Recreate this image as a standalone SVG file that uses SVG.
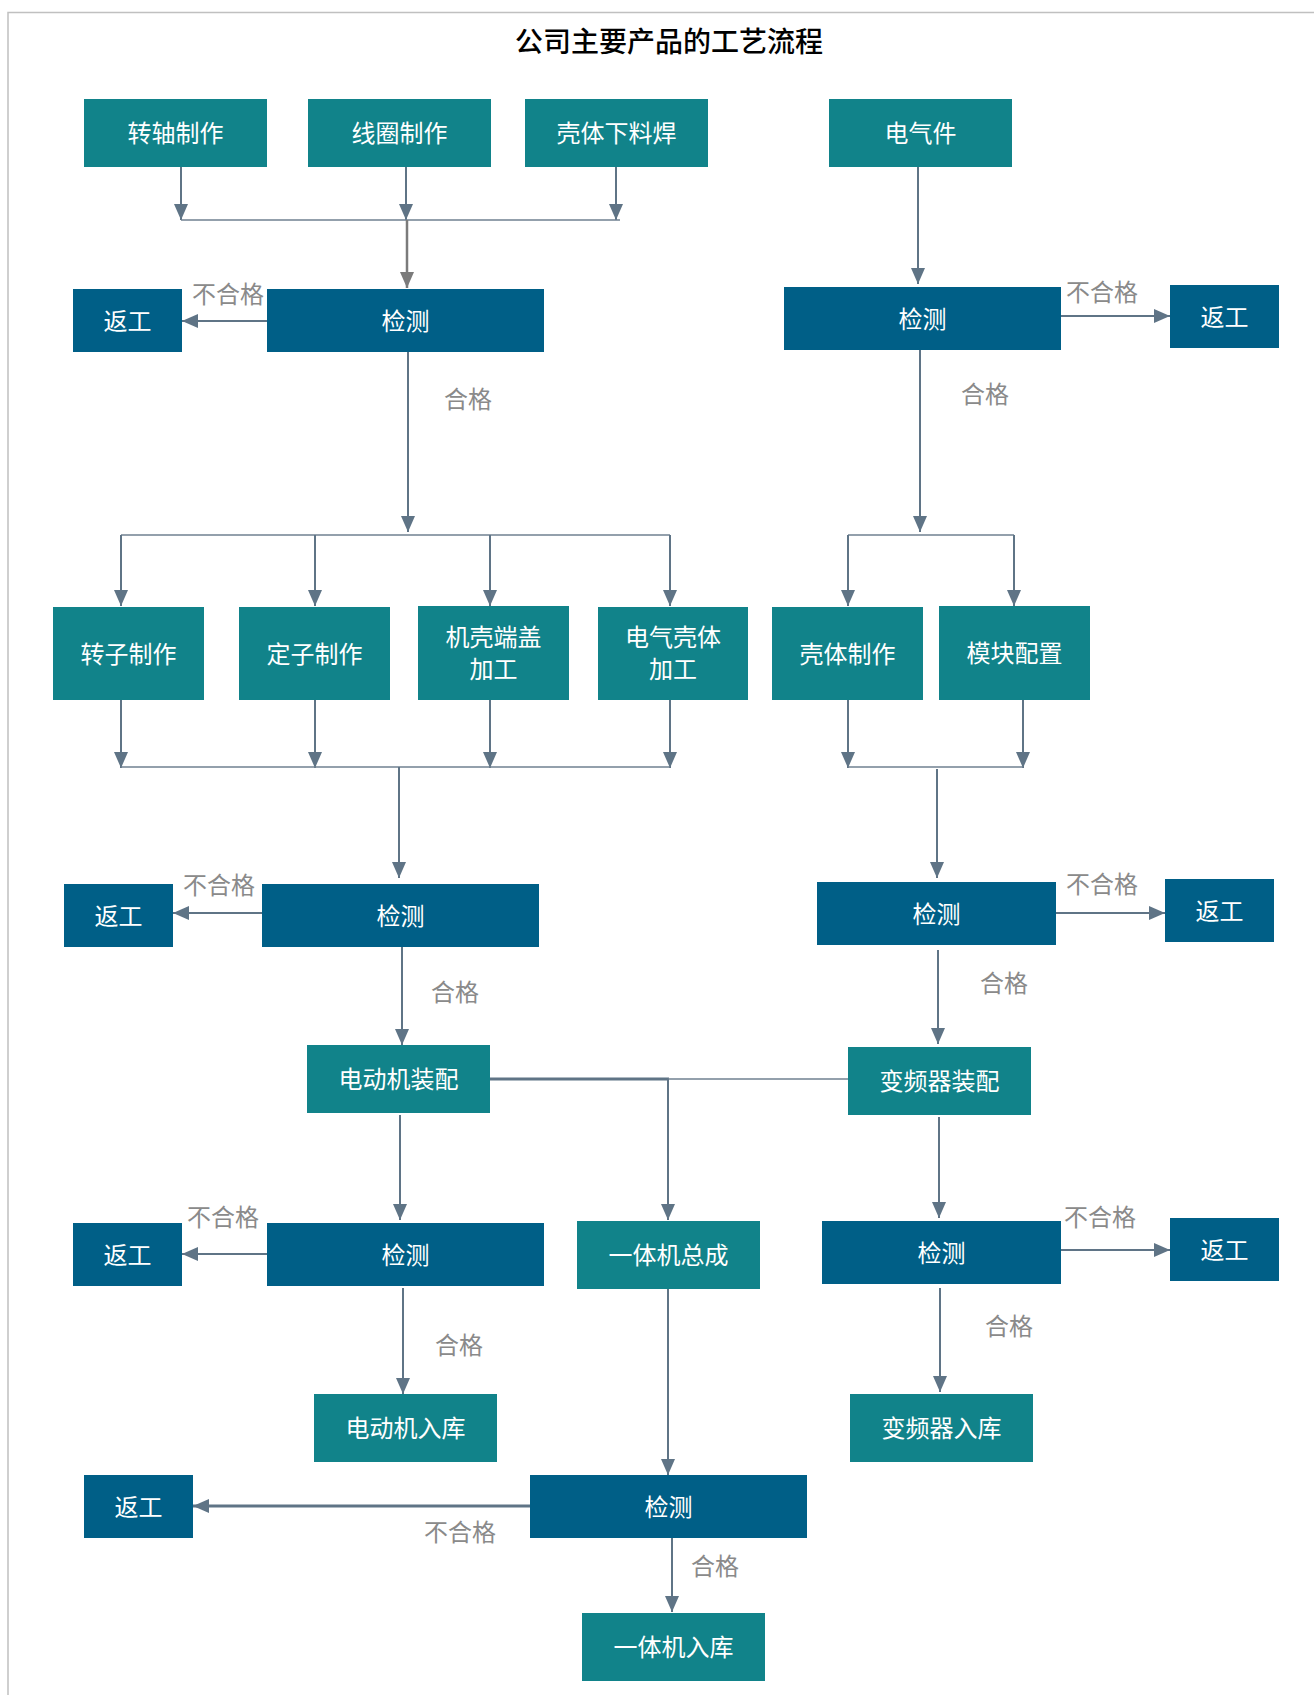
<svg xmlns="http://www.w3.org/2000/svg" width="1314" height="1695" viewBox="0 0 1314 1695">
  <defs>
    <style>
      .teal { fill: #11838a; }
      .blue { fill: #005f87; }
      .nt { font-family: "Noto Sans CJK SC", "Noto Sans", sans-serif; font-size: 24px; fill: #ffffff; text-anchor: middle; dominant-baseline: central; transform: translateY(-1.5px); }
      .lbl { font-family: "Noto Sans CJK SC", "Noto Sans", sans-serif; font-size: 24px; fill: #8a8a8a; text-anchor: middle; dominant-baseline: central; transform: translateY(-1.5px); }
      .title { font-family: "Noto Sans CJK SC", sans-serif; font-size: 28px; font-weight: 500; fill: #000000; text-anchor: middle; dominant-baseline: central; }
      .ln { stroke: #5f7486; stroke-width: 2; fill: none; }
      .thin { stroke: #6f8191; stroke-width: 1.5; fill: none; }
      .thick { stroke: #5f7486; stroke-width: 3; fill: none; }
      .gray { stroke: #7b7b7b; stroke-width: 2.5; fill: none; }
      .frame { stroke: #c0c0c0; stroke-width: 1.5; fill: none; }
    </style>
    <marker id="arr" markerUnits="userSpaceOnUse" markerWidth="16" markerHeight="14" refX="16" refY="7" orient="auto">
      <path d="M0,0 L16,7 L0,14 z" fill="#5f7486"/>
    </marker>
    <marker id="arrGray" markerUnits="userSpaceOnUse" markerWidth="16" markerHeight="14" refX="16" refY="7" orient="auto">
      <path d="M0,0 L16,7 L0,14 z" fill="#7b7b7b"/>
    </marker>
  </defs>

  <rect width="1314" height="1695" fill="#ffffff"/>
  <path class="frame" d="M8,1695 V12.5 H1314"/>
  <text class="title" x="669" y="40">公司主要产品的工艺流程</text>

  <!-- connectors -->
  <g id="connectors">
    <!-- first stage merge -->
    <line class="ln" x1="181" y1="167" x2="181" y2="220" marker-end="url(#arr)"/>
    <line class="ln" x1="406" y1="167" x2="406" y2="220" marker-end="url(#arr)"/>
    <line class="ln" x1="616" y1="167" x2="616" y2="220" marker-end="url(#arr)"/>
    <line class="thin" x1="181" y1="220" x2="620" y2="220"/>
    <line class="gray" x1="407" y1="220" x2="407" y2="288" marker-end="url(#arrGray)"/>
    <line class="ln" x1="267" y1="321" x2="182" y2="321" marker-end="url(#arr)"/>
    <line class="ln" x1="408" y1="352" x2="408" y2="532" marker-end="url(#arr)"/>

    <!-- motor component split -->
    <line class="thin" x1="121" y1="535" x2="670" y2="535"/>
    <line class="ln" x1="121" y1="535" x2="121" y2="606" marker-end="url(#arr)"/>
    <line class="ln" x1="315" y1="535" x2="315" y2="606" marker-end="url(#arr)"/>
    <line class="ln" x1="490" y1="535" x2="490" y2="606" marker-end="url(#arr)"/>
    <line class="ln" x1="670" y1="535" x2="670" y2="606" marker-end="url(#arr)"/>
    <line class="ln" x1="121" y1="700" x2="121" y2="768" marker-end="url(#arr)"/>
    <line class="ln" x1="315" y1="700" x2="315" y2="768" marker-end="url(#arr)"/>
    <line class="ln" x1="490" y1="700" x2="490" y2="768" marker-end="url(#arr)"/>
    <line class="ln" x1="670" y1="700" x2="670" y2="768" marker-end="url(#arr)"/>
    <line class="thin" x1="121" y1="767" x2="670" y2="767"/>
    <line class="ln" x1="399" y1="767" x2="399" y2="878" marker-end="url(#arr)"/>
    <line class="ln" x1="262" y1="913" x2="173" y2="913" marker-end="url(#arr)"/>
    <line class="ln" x1="402" y1="947" x2="402" y2="1045" marker-end="url(#arr)"/>

    <!-- motor assembly -->
    <line class="thick" x1="490" y1="1079" x2="669" y2="1079"/>
    <line class="thin" x1="668" y1="1079" x2="848" y2="1079"/>
    <line class="ln" x1="668" y1="1079" x2="668" y2="1220" marker-end="url(#arr)"/>
    <line class="ln" x1="400" y1="1115" x2="400" y2="1220" marker-end="url(#arr)"/>
    <line class="ln" x1="267" y1="1254" x2="182" y2="1254" marker-end="url(#arr)"/>
    <line class="ln" x1="403" y1="1288" x2="403" y2="1394" marker-end="url(#arr)"/>

    <!-- integrated unit -->
    <line class="ln" x1="668" y1="1289" x2="668" y2="1475" marker-end="url(#arr)"/>
    <line class="thick" x1="530" y1="1506" x2="193" y2="1506" marker-end="url(#arr)"/>
    <line class="ln" x1="672" y1="1538" x2="672" y2="1612" marker-end="url(#arr)"/>

    <!-- electrical branch -->
    <line class="ln" x1="918" y1="167" x2="918" y2="284" marker-end="url(#arr)"/>
    <line class="ln" x1="1061" y1="316" x2="1170" y2="316" marker-end="url(#arr)"/>
    <line class="ln" x1="920" y1="350" x2="920" y2="532" marker-end="url(#arr)"/>
    <line class="thin" x1="848" y1="535" x2="1014" y2="535"/>
    <line class="ln" x1="848" y1="535" x2="848" y2="606" marker-end="url(#arr)"/>
    <line class="ln" x1="1014" y1="535" x2="1014" y2="606" marker-end="url(#arr)"/>
    <line class="ln" x1="848" y1="700" x2="848" y2="768" marker-end="url(#arr)"/>
    <line class="ln" x1="1023" y1="700" x2="1023" y2="768" marker-end="url(#arr)"/>
    <line class="thin" x1="848" y1="767" x2="1023" y2="767"/>
    <line class="ln" x1="937" y1="769" x2="937" y2="878" marker-end="url(#arr)"/>
    <line class="ln" x1="1056" y1="913" x2="1165" y2="913" marker-end="url(#arr)"/>
    <line class="ln" x1="938" y1="950" x2="938" y2="1044" marker-end="url(#arr)"/>
    <line class="ln" x1="939" y1="1117" x2="939" y2="1218" marker-end="url(#arr)"/>
    <line class="ln" x1="1061" y1="1250" x2="1170" y2="1250" marker-end="url(#arr)"/>
    <line class="ln" x1="940" y1="1288" x2="940" y2="1392" marker-end="url(#arr)"/>

    <!-- connector labels -->
    <text class="lbl" x="228" y="294">不合格</text>
    <text class="lbl" x="468" y="399">合格</text>
    <text class="lbl" x="1102" y="292">不合格</text>
    <text class="lbl" x="985" y="394">合格</text>
    <text class="lbl" x="219" y="885">不合格</text>
    <text class="lbl" x="455" y="992">合格</text>
    <text class="lbl" x="1102" y="884">不合格</text>
    <text class="lbl" x="1004" y="983">合格</text>
    <text class="lbl" x="223" y="1217">不合格</text>
    <text class="lbl" x="459" y="1345">合格</text>
    <text class="lbl" x="1100" y="1217">不合格</text>
    <text class="lbl" x="1009" y="1326">合格</text>
    <text class="lbl" x="460" y="1532">不合格</text>
    <text class="lbl" x="715" y="1566">合格</text>
  </g>

  <!-- raw material stage -->
  <g id="n-shaft"><rect class="teal" x="84" y="99" width="183" height="68"/><text class="nt" x="175.5" y="133">转轴制作</text></g>
  <g id="n-coil"><rect class="teal" x="308" y="99" width="183" height="68"/><text class="nt" x="399.5" y="133">线圈制作</text></g>
  <g id="n-shell-weld"><rect class="teal" x="525" y="99" width="183" height="68"/><text class="nt" x="616.5" y="133">壳体下料焊</text></g>
  <g id="n-electric"><rect class="teal" x="829" y="99" width="183" height="68"/><text class="nt" x="920.5" y="133">电气件</text></g>

  <g id="n-check1"><rect class="blue" x="267" y="289" width="277" height="63"/><text class="nt" x="405.5" y="320.5">检测</text></g>
  <g id="n-rework1"><rect class="blue" x="73" y="289" width="109" height="63"/><text class="nt" x="127.5" y="320.5">返工</text></g>
  <g id="n-check2"><rect class="blue" x="784" y="287" width="277" height="63"/><text class="nt" x="922.5" y="318.5">检测</text></g>
  <g id="n-rework2"><rect class="blue" x="1170" y="285" width="109" height="63"/><text class="nt" x="1224.5" y="316.5">返工</text></g>

  <!-- component stage -->
  <g id="n-rotor"><rect class="teal" x="53" y="607" width="151" height="93"/><text class="nt" x="128.5" y="653.5">转子制作</text></g>
  <g id="n-stator"><rect class="teal" x="239" y="607" width="151" height="93"/><text class="nt" x="314.5" y="653.5">定子制作</text></g>
  <g id="n-endcap"><rect class="teal" x="418" y="606" width="151" height="94"/><text class="nt" x="493.5" y="637">机壳端盖</text><text class="nt" x="493.5" y="669">加工</text></g>
  <g id="n-elec-shell"><rect class="teal" x="598" y="607" width="150" height="93"/><text class="nt" x="673" y="637">电气壳体</text><text class="nt" x="673" y="669">加工</text></g>
  <g id="n-shell"><rect class="teal" x="772" y="607" width="151" height="93"/><text class="nt" x="847.5" y="653.5">壳体制作</text></g>
  <g id="n-module"><rect class="teal" x="939" y="606" width="151" height="94"/><text class="nt" x="1014.5" y="653">模块配置</text></g>

  <g id="n-check3"><rect class="blue" x="262" y="884" width="277" height="63"/><text class="nt" x="400.5" y="915.5">检测</text></g>
  <g id="n-rework3"><rect class="blue" x="64" y="884" width="109" height="63"/><text class="nt" x="118.5" y="915.5">返工</text></g>
  <g id="n-check4"><rect class="blue" x="817" y="882" width="239" height="63"/><text class="nt" x="936.5" y="913.5">检测</text></g>
  <g id="n-rework4"><rect class="blue" x="1165" y="879" width="109" height="63"/><text class="nt" x="1219.5" y="910.5">返工</text></g>

  <!-- assembly stage -->
  <g id="n-motor-asm"><rect class="teal" x="307" y="1045" width="183" height="68"/><text class="nt" x="398.5" y="1079">电动机装配</text></g>
  <g id="n-inverter-asm"><rect class="teal" x="848" y="1047" width="183" height="68"/><text class="nt" x="939.5" y="1081">变频器装配</text></g>

  <g id="n-check5"><rect class="blue" x="267" y="1223" width="277" height="63"/><text class="nt" x="405.5" y="1254.5">检测</text></g>
  <g id="n-rework5"><rect class="blue" x="73" y="1223" width="109" height="63"/><text class="nt" x="127.5" y="1254.5">返工</text></g>
  <g id="n-integrate"><rect class="teal" x="577" y="1221" width="183" height="68"/><text class="nt" x="668.5" y="1255">一体机总成</text></g>
  <g id="n-check6"><rect class="blue" x="822" y="1221" width="239" height="63"/><text class="nt" x="941.5" y="1252.5">检测</text></g>
  <g id="n-rework6"><rect class="blue" x="1170" y="1218" width="109" height="63"/><text class="nt" x="1224.5" y="1249.5">返工</text></g>

  <!-- storage -->
  <g id="n-motor-store"><rect class="teal" x="314" y="1394" width="183" height="68"/><text class="nt" x="405.5" y="1428">电动机入库</text></g>
  <g id="n-inverter-store"><rect class="teal" x="850" y="1394" width="183" height="68"/><text class="nt" x="941.5" y="1428">变频器入库</text></g>

  <g id="n-check7"><rect class="blue" x="530" y="1475" width="277" height="63"/><text class="nt" x="668.5" y="1506.5">检测</text></g>
  <g id="n-rework7"><rect class="blue" x="84" y="1475" width="109" height="63"/><text class="nt" x="138.5" y="1506.5">返工</text></g>
  <g id="n-unit-store"><rect class="teal" x="582" y="1613" width="183" height="68"/><text class="nt" x="673.5" y="1647">一体机入库</text></g>
</svg>
